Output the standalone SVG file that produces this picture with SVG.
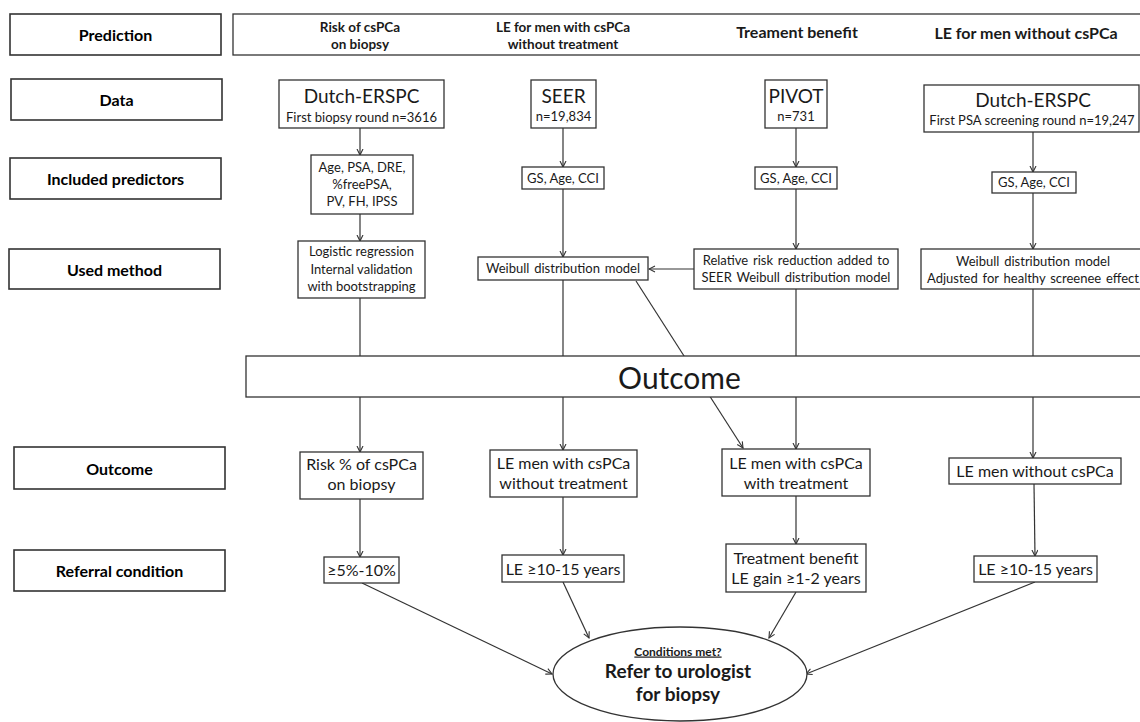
<svg xmlns="http://www.w3.org/2000/svg" width="1140" height="722" viewBox="0 0 1140 722">
<style>
  .lab rect { fill: #fff; stroke: #333; stroke-width: 1.6; }
  .lab text { font-family: Lato, "Liberation Sans", sans-serif; font-weight: bold; font-size: 16px; fill: #000; text-anchor: middle; }
  .nd rect, .nd ellipse { fill: #fff; stroke: #333; stroke-width: 1.3; }
  .nd text { font-family: Lato, "Liberation Sans", sans-serif; fill: #1a1a1a; text-anchor: middle; }
  .hd { font-family: Lato, "Liberation Sans", sans-serif; font-weight: bold; fill: #000; text-anchor: middle; }
  .s { font-size: 13px; }
  .w { word-spacing: 1.5px; }
  .m { font-size: 16px; }
  .l { font-size: 19px; }
  .c line, .c path { stroke: #333; stroke-width: 1.2; fill: none; }
  .c .a { marker-end: url(#ah); }
</style>
<defs>
  <marker id="ah" markerUnits="userSpaceOnUse" markerWidth="8" markerHeight="8" refX="6.5" refY="3.5" orient="auto">
    <path d="M0.5,0.5 L6.5,3.5 L0.5,6.5" fill="none" stroke="#333" stroke-width="1.1"/>
  </marker>
</defs>
<rect width="1140" height="722" fill="#fff"/>

<g id="connectors" class="c">
  <path class="a" d="M360,128 V155"/>
  <path class="a" d="M360,214 V241"/>
  <path d="M360,298 V356"/>
  <path class="a" d="M360,397 V452"/>
  <path class="a" d="M360,499 V557"/>
  <path class="a" d="M362,583 L552,674"/>

  <path class="a" d="M563,128 V167"/>
  <path class="a" d="M563,189 V257"/>
  <path d="M563,280 V356"/>
  <path class="a" d="M563,397 V450"/>
  <path class="a" d="M563,497 V555"/>
  <path class="a" d="M563,582 L589,638"/>

  <path class="a" d="M796,128 V167"/>
  <path class="a" d="M796,189 V249"/>
  <path class="a" d="M694,269 H649"/>
  <path d="M796,289 V356"/>
  <path class="a" d="M636,281 L743,448"/>
  <path class="a" d="M796,397 V449"/>
  <path class="a" d="M796,496 V544"/>
  <path class="a" d="M796,592 L769,638"/>

  <path class="a" d="M1033,132 V172"/>
  <path class="a" d="M1033,193 V249"/>
  <path d="M1033,289 V356"/>
  <path class="a" d="M1033,397 V458"/>
  <path class="a" d="M1034,484 L1035,556"/>
  <path class="a" d="M1035,582 L806,674"/>
</g>

<g id="label-prediction" class="lab"><rect x="10" y="14" width="211" height="41"/><text x="115.5" y="40.5">Prediction</text></g>
<g id="label-data" class="lab"><rect x="11" y="79" width="211" height="41"/><text x="116.5" y="105.5">Data</text></g>
<g id="label-predictors" class="lab"><rect x="10" y="158" width="211" height="41"/><text x="115.5" y="184.5">Included predictors</text></g>
<g id="label-method" class="lab"><rect x="9" y="249" width="211" height="40"/><text x="114.5" y="275.5">Used method</text></g>
<g id="label-outcome" class="lab"><rect x="14" y="447" width="211" height="42"/><text x="119.5" y="474.5">Outcome</text></g>
<g id="label-referral" class="lab"><rect x="14" y="550" width="211" height="41"/><text x="119.5" y="576.5">Referral  condition</text></g>

<g id="header" class="nd">
  <rect x="233" y="14" width="915" height="41"/>
  <text class="hd" x="360" y="32" font-size="13.5">Risk of csPCa</text>
  <text class="hd" x="360" y="49" font-size="13.5">on biopsy</text>
  <text class="hd" x="563" y="32" font-size="13.5">LE for men with csPCa</text>
  <text class="hd" x="563" y="49" font-size="13.5">without treatment</text>
  <text class="hd" x="797" y="38" font-size="16">Treament benefit</text>
  <text class="hd" x="1026" y="39" font-size="16">LE for men without csPCa</text>
</g>

<g id="data-erspc1" class="nd"><rect x="279" y="80" width="165" height="48"/><text class="l" x="361.5" y="103">Dutch-ERSPC</text><text class="s" x="361.5" y="121.5">First biopsy round n=3616</text></g>
<g id="pred-1" class="nd"><rect x="311" y="155" width="102" height="59"/><text class="s" x="362" y="171.5">Age, PSA, DRE,</text><text class="s" x="362" y="189">%freePSA,</text><text class="s" x="362" y="206">PV, FH, IPSS</text></g>
<g id="method-1" class="nd"><rect x="298" y="241" width="127" height="57"/><text class="s" x="361.5" y="255.5">Logistic regression</text><text class="s" x="361.5" y="273.5">Internal validation</text><text class="s" x="361.5" y="290.5">with bootstrapping</text></g>
<g id="outcome-1" class="nd"><rect x="300" y="452" width="123" height="47"/><text class="m" x="361.5" y="469.5">Risk % of csPCa</text><text class="m" x="361.5" y="490">on biopsy</text></g>
<g id="ref-1" class="nd"><rect x="324" y="557" width="75" height="26"/><text class="m" x="361.5" y="575.5">≥5%-10%</text></g>

<g id="data-seer" class="nd"><rect x="531" y="80" width="65" height="48"/><text class="l" x="563.5" y="103">SEER</text><text class="s" x="563.5" y="120.5">n=19,834</text></g>
<g id="pred-2" class="nd"><rect x="522" y="167" width="82" height="22"/><text class="s" x="563" y="182.5">GS, Age, CCI</text></g>
<g id="method-2" class="nd"><rect x="478" y="257" width="170" height="23"/><text class="s w" x="563" y="273">Weibull distribution model</text></g>
<g id="outcome-2" class="nd"><rect x="490" y="450" width="147" height="47"/><text class="m" x="563.5" y="468.5">LE men with csPCa</text><text class="m" x="563.5" y="488.5">without treatment</text></g>
<g id="ref-2" class="nd"><rect x="502" y="555" width="122" height="27"/><text class="m" x="563" y="574.5">LE ≥10-15 years</text></g>

<g id="data-pivot" class="nd"><rect x="765" y="80" width="62" height="48"/><text class="l" x="796" y="103">PIVOT</text><text class="s" x="796" y="120.5">n=731</text></g>
<g id="pred-3" class="nd"><rect x="755" y="167" width="82" height="22"/><text class="s" x="796" y="182.5">GS, Age, CCI</text></g>
<g id="method-3" class="nd"><rect x="694" y="249" width="204" height="40"/><text class="s w" x="796" y="264.5">Relative risk reduction added to</text><text class="s w" x="796" y="281.5">SEER Weibull distribution model</text></g>
<g id="outcome-3" class="nd"><rect x="722" y="449" width="148" height="47"/><text class="m" x="796" y="468.5">LE men with csPCa</text><text class="m" x="796" y="488.5">with treatment</text></g>
<g id="ref-3" class="nd"><rect x="726" y="544" width="140" height="48"/><text class="m" x="796" y="563.5">Treatment benefit</text><text class="m" x="796" y="583.5">LE gain ≥1-2 years</text></g>

<g id="data-erspc2" class="nd"><rect x="924" y="85" width="215" height="47"/><text class="l" x="1033" y="107">Dutch-ERSPC</text><text class="s" x="1032" y="124.5">First PSA screening round n=19,247</text></g>
<g id="pred-4" class="nd"><rect x="992" y="172" width="84" height="21"/><text class="s" x="1034" y="187">GS, Age, CCI</text></g>
<g id="method-4" class="nd"><rect x="921" y="249" width="230" height="40"/><text class="s w" x="1033" y="265.5">Weibull distribution model</text><text class="s w" x="1033" y="282.5">Adjusted for healthy screenee effect</text></g>
<g id="outcome-4" class="nd"><rect x="949" y="458" width="172" height="26"/><text class="m" x="1035" y="476.5">LE men without csPCa</text></g>
<g id="ref-4" class="nd"><rect x="974" y="556" width="123" height="26"/><text class="m" x="1035.5" y="574.5">LE ≥10-15 years</text></g>

<g id="outcome-bar" class="nd"><rect x="246" y="356" width="902" height="41"/><text x="679.5" y="389" font-size="30">Outcome</text></g>

<g id="refer" class="nd">
  <ellipse cx="680" cy="674" rx="127" ry="47"/>
  <text class="hd" x="678" y="655.5" font-size="12" text-decoration="underline">Conditions met?</text>
  <text class="hd" x="678" y="677.5" font-size="19">Refer to urologist</text>
  <text class="hd" x="678" y="701" font-size="19">for biopsy</text>
</g>
</svg>
